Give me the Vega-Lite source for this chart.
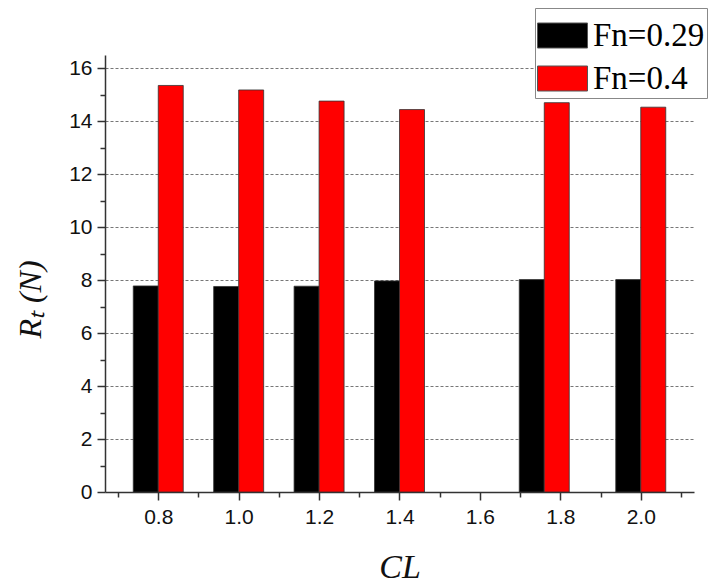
{
  "$schema": "https://vega.github.io/schema/vega-lite/v6.json",
  "width": 589,
  "height": 437,
  "autosize": {"type": "none"},
  "padding": {"left": 105, "top": 55, "right": 26, "bottom": 93},
  "background": "white",
  "config": {"view": {"stroke": null}},
  "data": {
    "values": [
      {"CL": 0.8, "RT": 7.78, "Fn": "Fn=0.29"},
      {"CL": 1.0, "RT": 7.76, "Fn": "Fn=0.29"},
      {"CL": 1.2, "RT": 7.77, "Fn": "Fn=0.29"},
      {"CL": 1.4, "RT": 7.97, "Fn": "Fn=0.29"},
      {"CL": 1.76, "RT": 8.02, "Fn": "Fn=0.29"},
      {"CL": 2.0, "RT": 8.02, "Fn": "Fn=0.29"},
      {"CL": 0.8, "RT": 15.35, "Fn": "Fn=0.4"},
      {"CL": 1.0, "RT": 15.18, "Fn": "Fn=0.4"},
      {"CL": 1.2, "RT": 14.76, "Fn": "Fn=0.4"},
      {"CL": 1.4, "RT": 14.44, "Fn": "Fn=0.4"},
      {"CL": 1.76, "RT": 14.70, "Fn": "Fn=0.4"},
      {"CL": 2.0, "RT": 14.53, "Fn": "Fn=0.4"}
    ]
  },
  "encoding": {
    "x": {
      "field": "CL",
      "type": "quantitative",
      "scale": {"domain": [0.68, 2.12], "nice": false, "zero": false},
      "axis": {
        "values": [0.7, 0.8, 0.9, 1.0, 1.1, 1.2, 1.3, 1.4, 1.5, 1.6, 1.7, 1.8, 1.9, 2.0, 2.1],
        "labelExpr": "round(datum.value*10) % 2 == 0 ? format(datum.value, '.1f') : ''",
        "grid": false,
        "tickSize": {"condition": {"test": "round(datum.value*10) % 2 == 0", "value": 8}, "value": 5},
        "domainColor": "#333",
        "domainWidth": 1.5,
        "tickColor": "#333",
        "tickWidth": 1.5,
        "labelFont": "Liberation Sans",
        "labelFontSize": 21,
        "labelColor": "#111",
        "labelPadding": 6,
        "title": "CL",
        "titleFont": "Liberation Serif",
        "titleFontStyle": "italic",
        "titleFontWeight": "normal",
        "titleFontSize": 34,
        "titleColor": "#111",
        "titleBaseline": "alphabetic",
        "titleY": 85
      }
    },
    "y": {
      "field": "RT",
      "type": "quantitative",
      "scale": {"domain": [0, 16.5], "nice": false},
      "axis": {
        "values": [0, 1, 2, 3, 4, 5, 6, 7, 8, 9, 10, 11, 12, 13, 14, 15, 16],
        "labelExpr": "datum.value % 2 == 0 ? datum.label : ''",
        "grid": true,
        "gridOpacity": {"condition": {"test": "datum.value % 2 == 0 && datum.value > 0", "value": 1}, "value": 0},
        "gridDash": [3, 2],
        "gridColor": "#777",
        "gridWidth": 1,
        "tickSize": {"condition": {"test": "datum.value % 2 == 0", "value": 8}, "value": 5},
        "domainColor": "#333",
        "domainWidth": 1.5,
        "tickColor": "#333",
        "tickWidth": 1.5,
        "labelFont": "Liberation Sans",
        "labelFontSize": 21,
        "labelColor": "#111",
        "labelPadding": 5,
        "title": "Rₜ (N)",
        "titleFont": "Liberation Serif",
        "titleFontStyle": "italic",
        "titleFontWeight": "normal",
        "titleFontSize": 32,
        "titleColor": "#111",
        "titleAngle": -90,
        "titleBaseline": "alphabetic",
        "titleX": -65,
        "titleY": 244
      }
    },
    "color": {
      "field": "Fn",
      "type": "nominal",
      "scale": {"domain": ["Fn=0.29", "Fn=0.4"], "range": ["#000000", "#ff0000"]},
      "legend": {
        "orient": "none",
        "legendX": 430,
        "legendY": -47,
        "title": null,
        "symbolType": "M-1,-0.5H1V0.5H-1Z",
        "symbolSize": 2500,
        "symbolStrokeColor": "#555",
        "symbolStrokeWidth": 1,
        "symbolOpacity": 1,
        "labelFont": "Liberation Serif",
        "labelFontSize": 33,
        "labelColor": "#000",
        "labelOffset": 5,
        "labelLimit": 300,
        "padding": 2,
        "rowPadding": 0,
        "strokeColor": "#888",
        "fillColor": "white"
      }
    }
  },
  "layer": [
    {
      "transform": [{"filter": "datum.Fn == 'Fn=0.29'"}],
      "mark": {"type": "bar", "width": 25, "xOffset": -12.5, "stroke": "#333", "strokeWidth": 0.8, "opacity": 1}
    },
    {
      "transform": [{"filter": "datum.Fn == 'Fn=0.4'"}],
      "mark": {"type": "bar", "width": 25, "xOffset": 12.5, "stroke": "#333", "strokeWidth": 0.8, "opacity": 1}
    }
  ]
}
